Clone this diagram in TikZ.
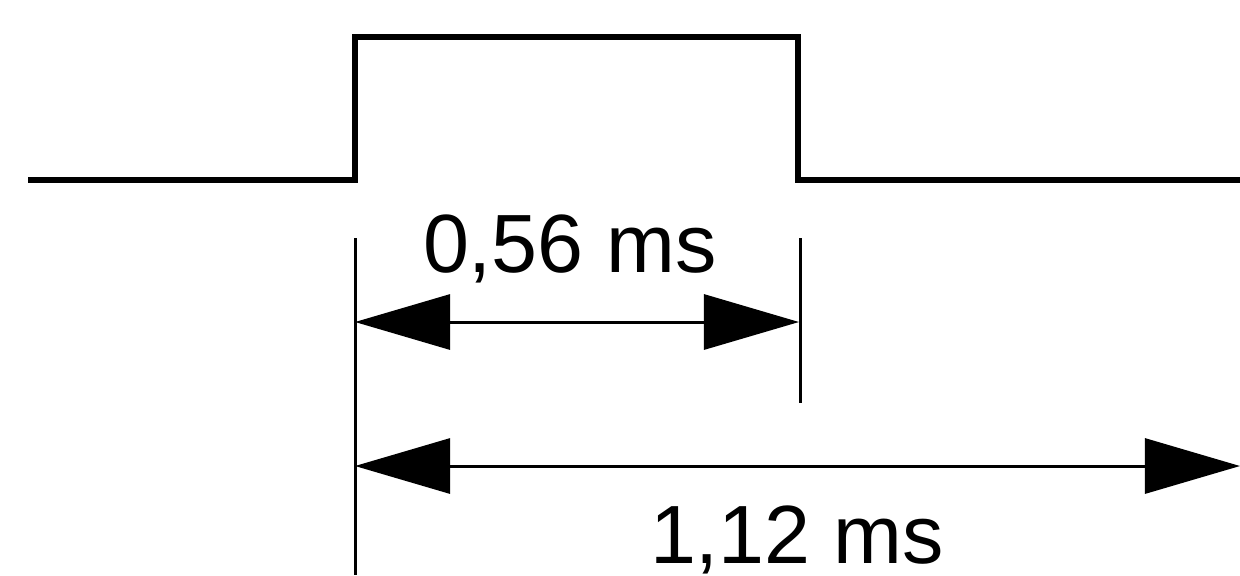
\documentclass[tikz,border=0pt]{standalone}
\usepackage{fontspec}
\setmainfont{Liberation Sans}
\usetikzlibrary{arrows.meta,calc}
\begin{document}
\begin{tikzpicture}[x=0.01cm, y=-0.01cm, font=\fontsize{23.5}{28}\selectfont,
		signal/.style={line width=1.7pt, line join=miter},
		mark line/.style={line width=0.85pt},
		dim/.style={line width=0.85pt, {Triangle[length=0.95cm,width=0.55cm]}-{Triangle[length=0.95cm,width=0.55cm]}}]
				\useasboundingbox (0,0) rectangle (1240,575);
				\foreach \x\y\t in {28/180/L,355/180/A,355/37/B,798/37/C,798/180/D,1240/180/R}
				\coordinate (\t) at (\x,\y);
				\draw[signal] (L)--(A)--(B)--(C)--(D)--(R);
				\coordinate (T1) at (355,238);
				\coordinate (T2) at (355,575);
				\coordinate (U1) at (800,238);
				\coordinate (U2) at (800,403);
				\draw[mark line] (T1)--(T2);
				\draw[mark line] (U1)--(U2);
				\coordinate (P1) at (355,322);
				\coordinate (P2) at (799,322);
				\coordinate (Q1) at (355,466);
				\coordinate (Q2) at (1240,466);
				\draw[dim] (P1)--(P2);
				\draw[dim] (Q1)--(Q2);
				\node[anchor=base] (pulse) at (570,272) {0,56 ms};
				\node[anchor=base] (period) at (797,563) {1,12 ms};
		\end{tikzpicture}
\end{document}
